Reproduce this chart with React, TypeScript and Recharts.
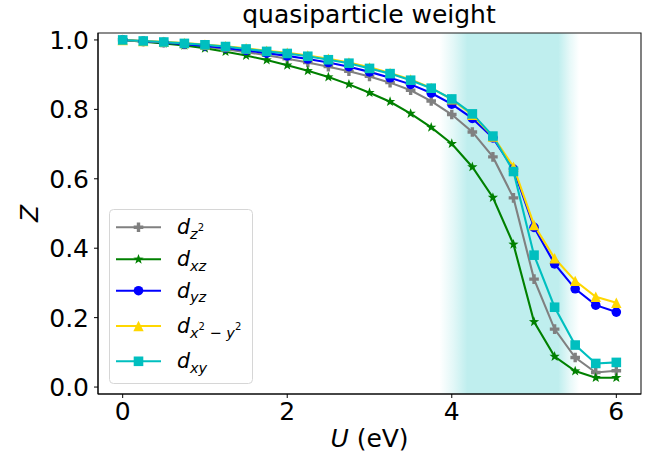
import React from "react";
import {
  LineChart,
  Line,
  XAxis,
  YAxis,
  ReferenceArea,
  Legend,
} from "recharts";

// U values (eV)
const uValues = [
  0, 0.25, 0.5, 0.75, 1, 1.25, 1.5, 1.75, 2, 2.25, 2.5, 2.75, 3, 3.25, 3.5,
  3.75, 4, 4.25, 4.5, 4.75, 5, 5.25, 5.5, 5.75, 6,
];

const zDz2 = [
  1.0, 0.996, 0.992, 0.987, 0.981, 0.973, 0.965, 0.956, 0.946, 0.935, 0.923,
  0.91, 0.895, 0.877, 0.855, 0.824, 0.785, 0.735, 0.663, 0.545, 0.311, 0.167,
  0.085, 0.042, 0.047,
];
const zDxz = [
  1.0, 0.995, 0.99, 0.984, 0.976, 0.966, 0.955, 0.942, 0.927, 0.911, 0.893,
  0.872, 0.848, 0.822, 0.788, 0.748, 0.701, 0.634, 0.546, 0.411, 0.188, 0.088,
  0.046, 0.027, 0.027,
];
const zDyz = [
  1.0, 0.996, 0.993, 0.988, 0.983, 0.977, 0.97, 0.962, 0.954, 0.945, 0.935,
  0.923, 0.908, 0.891, 0.872, 0.847, 0.815, 0.774, 0.718, 0.628, 0.46, 0.355,
  0.283, 0.236, 0.216,
];
const zDx2y2 = [
  1.0, 0.997, 0.995, 0.991, 0.987, 0.982, 0.976, 0.969, 0.963, 0.955, 0.946,
  0.935, 0.921, 0.905, 0.886, 0.862, 0.829, 0.784, 0.722, 0.635, 0.467, 0.371,
  0.306, 0.26, 0.243,
];
const zDxy = [
  1.0, 0.997, 0.994, 0.99, 0.986, 0.981, 0.974, 0.967, 0.961, 0.953, 0.943,
  0.933, 0.918, 0.903, 0.884, 0.861, 0.83, 0.787, 0.723, 0.621, 0.38, 0.23,
  0.121, 0.068, 0.071,
];

const xTicks = [0, 2, 4, 6];
const yTicks = [0, 0.2, 0.4, 0.6, 0.8, 1.0];

// shaded transition window
const bandStart = 3.85;
const bandEnd = 5.55;

const data = uValues.map((u, i) => ({
  u,
  dz2: zDz2[i],
  dxz: zDxz[i],
  dyz: zDyz[i],
  dx2y2: zDx2y2[i],
  dxy: zDxy[i],
}));

const FONT = "'DejaVu Sans', sans-serif";

type Kind = "plus" | "star" | "circle" | "triangle" | "square";

function drawMarker(kind: Kind, color: string, cx: number, cy: number, key?: any) {
  if (kind === "circle") {
    return <circle key={key} cx={cx} cy={cy} r={4.8} fill={color} />;
  }
  if (kind === "square") {
    return <rect key={key} x={cx - 4.8} y={cy - 4.8} width={9.6} height={9.6} fill={color} />;
  }
  if (kind === "triangle") {
    const s = 5.2;
    return (
      <polygon
        key={key}
        points={`${cx},${cy - s} ${cx - s},${cy + s} ${cx + s},${cy + s}`}
        fill={color}
      />
    );
  }
  if (kind === "star") {
    const pts: string[] = [];
    for (let k = 0; k < 10; k++) {
      const r = k % 2 === 0 ? 5.4 : 2.2;
      const a = (-90 + k * 36) * (Math.PI / 180);
      pts.push(`${cx + r * Math.cos(a)},${cy + r * Math.sin(a)}`);
    }
    return <polygon key={key} points={pts.join(" ")} fill={color} />;
  }
  // filled plus
  const a = 4.8;
  const b = 1.7;
  const d = `M${cx - b},${cy - a}H${cx + b}V${cy - b}H${cx + a}V${cy + b}H${cx + b}V${cy + a}H${cx - b}V${cy + b}H${cx - a}V${cy - b}H${cx - b}Z`;
  return <path key={key} d={d} fill={color} />;
}

const dotFor = (kind: Kind, color: string) => (props: any) => {
  const { cx, cy, index } = props;
  if (cx == null || cy == null) return <g key={`e${index}`} />;
  return drawMarker(kind, color, cx, cy, `m${index}`);
};

const series = [
  { key: "dz2", color: "#808080", kind: "plus" as Kind },
  { key: "dxz", color: "#008000", kind: "star" as Kind },
  { key: "dyz", color: "#0000ff", kind: "circle" as Kind },
  { key: "dx2y2", color: "#ffd700", kind: "triangle" as Kind },
  { key: "dxy", color: "#00bfbf", kind: "square" as Kind },
];

function LegendBox() {
  const it = { fontStyle: "italic" as const };
  const sub = 14.5;
  const sup = 10;
  const labels = [
    <>
      <tspan {...it}>d</tspan>
      <tspan {...it} fontSize={sub} dy={4.5}>z</tspan>
      <tspan fontSize={sup} dy={-7.5}>2</tspan>
    </>,
    <>
      <tspan {...it}>d</tspan>
      <tspan {...it} fontSize={sub} dy={4.5}>xz</tspan>
    </>,
    <>
      <tspan {...it}>d</tspan>
      <tspan {...it} fontSize={sub} dy={4.5}>yz</tspan>
    </>,
    <>
      <tspan {...it}>d</tspan>
      <tspan {...it} fontSize={sub} dy={4.5}>x</tspan>
      <tspan fontSize={sup} dy={-7.5}>2</tspan>
      <tspan fontSize={sub} dy={7.5}> − </tspan>
      <tspan {...it} fontSize={sub}>y</tspan>
      <tspan fontSize={sup} dy={-7.5}>2</tspan>
    </>,
    <>
      <tspan {...it}>d</tspan>
      <tspan {...it} fontSize={sub} dy={4.5}>xy</tspan>
    </>,
  ];
  const rows = [18.3, 50.3, 81.7, 117, 152.3];
  return (
    <svg width={144} height={175} style={{ display: "block" }}>
      <rect
        x={0.5}
        y={0.5}
        width={143}
        height={174}
        rx={4}
        fill="#ffffff"
        fillOpacity={0.8}
        stroke="#d6d6d6"
      />
      {series.map((s, i) => (
        <g key={s.key}>
          <line x1={7} x2={52} y1={rows[i]} y2={rows[i]} stroke={s.color} strokeWidth={2.1} />
          {drawMarker(s.kind, s.color, 29.5, rows[i])}
          <text x={68} y={rows[i] + 7} fontSize={20.5} fontFamily={FONT} fill="#000">
            {labels[i]}
          </text>
        </g>
      ))}
    </svg>
  );
}

export default function App() {
  return (
    <div style={{ position: "absolute", left: 0, top: 0, width: 662, height: 468, background: "#fff" }}>
      <LineChart
        width={662}
        height={468}
        data={data}
        margin={{ top: 33, right: 21, bottom: 34, left: 0 }}
      >
        <defs>
          <linearGradient id="bandFill" x1="0" y1="0" x2="1" y2="0">
            <stop offset="0%" stopColor="#bfeeee" stopOpacity={0} />
            <stop offset="10%" stopColor="#bfeeee" stopOpacity={0.45} />
            <stop offset="20%" stopColor="#bfeeee" stopOpacity={1} />
            <stop offset="85%" stopColor="#bfeeee" stopOpacity={1} />
            <stop offset="93%" stopColor="#bfeeee" stopOpacity={0.4} />
            <stop offset="100%" stopColor="#bfeeee" stopOpacity={0} />
          </linearGradient>
        </defs>
        <XAxis
          dataKey="u"
          type="number"
          domain={[-0.3, 6.3]}
          ticks={xTicks}
          allowDataOverflow
          height={40}
          tickSize={4}
          tickMargin={4}
          stroke="#000"
          tick={{ fill: "#000", fontSize: 25, fontFamily: FONT }}
          tickFormatter={(v: number) => String(v)}
          label={{
            content: (p: any) => {
              const vb = p.viewBox || {};
              return (
                <text
                  x={vb.x + vb.width / 2}
                  y={447}
                  textAnchor="middle"
                  fontSize={25}
                  fontFamily={FONT}
                  fill="#000"
                >
                  <tspan fontStyle="italic">U</tspan> (eV)
                </text>
              );
            },
          }}
        />
        <YAxis
          type="number"
          domain={[-0.02, 1.02]}
          ticks={yTicks}
          allowDataOverflow
          width={98}
          tickSize={4}
          tickMargin={5}
          stroke="#000"
          tick={{ fill: "#000", fontSize: 25, fontFamily: FONT }}
          tickFormatter={(v: number) => v.toFixed(1)}
          label={{
            content: (p: any) => {
              const vb = p.viewBox || {};
              const cy = vb.y + vb.height / 2;
              return (
                <text
                  x={38}
                  y={cy}
                  transform={`rotate(-90 38 ${cy})`}
                  textAnchor="middle"
                  fontSize={25}
                  fontStyle="italic"
                  fontFamily={FONT}
                  fill="#000"
                >
                  Z
                </text>
              );
            },
          }}
        />
        <ReferenceArea
          x1={bandStart}
          x2={bandEnd}
          y1={-0.02}
          y2={1.02}
          fill="url(#bandFill)"
          fillOpacity={1}
          stroke="none"
        />
        {series.map((s) => (
          <Line
            key={s.key}
            dataKey={s.key}
            type="linear"
            stroke={s.color}
            strokeWidth={2.1}
            dot={dotFor(s.kind, s.color)}
            activeDot={false}
            isAnimationActive={false}
          />
        ))}
        <ReferenceArea
          x1={-0.3}
          x2={6.3}
          y1={-0.02}
          y2={1.02}
          fill="none"
          stroke="#1a1a1a"
          strokeWidth={1.1}
          ifOverflow="visible"
        />
        <Legend
          layout="vertical"
          align="center"
          verticalAlign="middle"
          wrapperStyle={{ position: "absolute", left: 109, top: 209, width: 144, height: 175 }}
          content={() => <LegendBox />}
        />
        <text x={369} y={23} textAnchor="middle" fontSize={25} fontFamily={FONT} fill="#000">
          quasiparticle weight
        </text>
      </LineChart>
    </div>
  );
}
